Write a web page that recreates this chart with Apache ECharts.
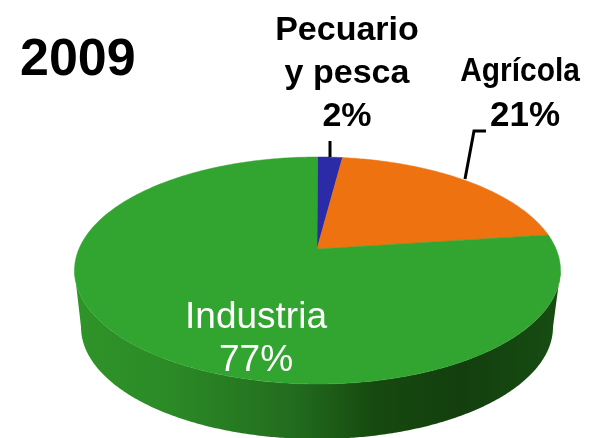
<!DOCTYPE html>
<html>
<head>
<meta charset="utf-8">
<style>
  html, body { margin: 0; padding: 0; background: #fff; }
  #main { width: 598px; height: 438px; }
</style>
<script src="https://cdn.jsdelivr.net/npm/echarts@6/dist/echarts.min.js"></script>
</head>
<body>
<div id="main"></div>
<script>
const year = '2009';
const sectors = ['Pecuario\ny pesca', 'Agrícola', 'Industria'];
const shares = [2, 21, 77];
const colors = ['#2b2ba8', '#ef7210', '#32a530'];

// cara superior y base de la elipse, con el centro real desplazado por la perspectiva
const top3d = { cx: 317.5, cy: 270.5, rx: 243, ry: 113.5, apexX: 317, apexY: 249 };
const base3d = { cx: 317, cy: 327, rx: 236, ry: 112 };
const squash = 0.82;

const total = shares.reduce((a, b) => a + b, 0);

function toParam(share) {
    const half = (share / total) * Math.PI;
    return 2 * Math.atan2(squash * Math.sin(half), Math.cos(half));
}

function rim(e, from, to) {
    const pts = [];
    const n = Math.max(2, Math.ceil(Math.abs(to - from) / 0.01));
    for (let i = 0; i <= n; i++) {
        const t = from + (to - from) * i / n;
        pts.push([e.cx + e.rx * Math.sin(t), e.cy - e.ry * Math.cos(t)]);
    }
    return pts;
}

function range(index) {
    let before = 0;
    for (let i = 0; i < index; i++) before += shares[i];
    return [toParam(before), toParam(before + shares[index])];
}

const chart = echarts.init(document.getElementById('main'), null, { renderer: 'canvas' });

chart.setOption({
    backgroundColor: '#fff',
    animation: false,
    series: [
        {
            // pared lateral, solo la parte frontal
            type: 'custom',
            coordinateSystem: 'none',
            silent: true,
            clip: false,
            data: shares,
            renderItem: (params) => {
                const r = range(params.dataIndex);
                const from = Math.max(r[0], Math.PI / 2);
                const to = Math.min(r[1], Math.PI * 3 / 2);
                if (to <= from) return { type: 'group', children: [] };
                const points = rim(top3d, from, to).concat(rim(base3d, to, from));
                return {
                    type: 'polygon',
                    shape: { points: points },
                    style: {
                        fill: new echarts.graphic.LinearGradient(0, 0, 1, 0, [
                            { offset: 0, color: '#2f9429' },
                            { offset: 0.2, color: '#2b8a26' },
                            { offset: 0.45, color: '#226c1e' },
                            { offset: 0.62, color: '#16490f' },
                            { offset: 0.8, color: '#133f0e' },
                            { offset: 1, color: '#174d13' }
                        ])
                    }
                };
            }
        },
        {
            type: 'custom',
            coordinateSystem: 'none',
            silent: true,
            clip: false,
            data: shares,
            z: 3,
            renderItem: (params) => {
                const r = range(params.dataIndex);
                const color = colors[params.dataIndex];
                return {
                    type: 'polygon',
                    shape: { points: [[top3d.apexX, top3d.apexY]].concat(rim(top3d, r[0], r[1])) },
                    style: { fill: color, stroke: color, lineWidth: 0.5 }
                };
            }
        }
    ],
    graphic: [
        { type: 'polyline', z: 5, shape: { points: [[330, 141], [330, 157]] }, style: { stroke: '#000', lineWidth: 3, fill: null } },
        { type: 'polyline', z: 5, shape: { points: [[465, 179], [474, 131], [486, 131]] }, style: { stroke: '#000', lineWidth: 3, fill: null } },
        { type: 'text', z: 6, x: 20, y: 35, style: { text: year, fill: '#000', font: 'bold 52px "Liberation Sans"' } },
        { type: 'text', z: 6, x: 347, y: 9, style: { text: sectors[0] + '\n' + shares[0] + '%', fill: '#000', font: 'bold 34px "Liberation Sans"', align: 'center', lineHeight: 43 } },
        { type: 'text', z: 6, x: 520, y: 55, scaleX: 0.88, style: { text: sectors[1], fill: '#000', font: 'bold 34px "Liberation Sans"', align: 'center' } },
        { type: 'text', z: 6, x: 525, y: 99, style: { text: shares[1] + '%', fill: '#000', font: 'bold 35px "Liberation Sans"', align: 'center' } },
        { type: 'text', z: 6, x: 256, y: 296, style: { text: sectors[2] + '\n' + shares[2] + '%', fill: '#fff', font: '37px "Liberation Sans"', align: 'center', lineHeight: 43 } }
    ]
});
</script>
</body>
</html>
